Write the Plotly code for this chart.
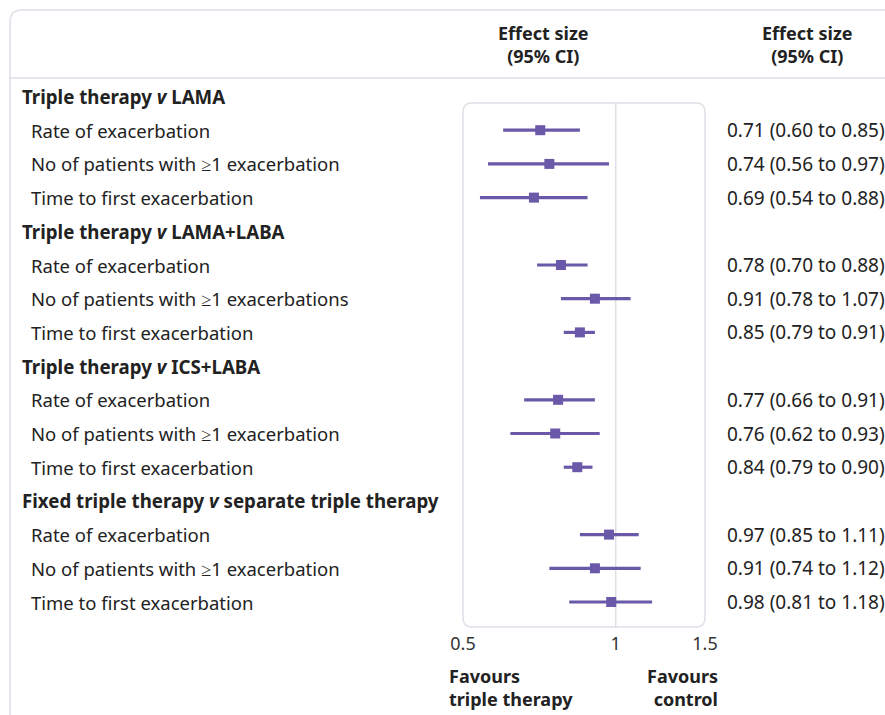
import plotly.graph_objects as go

W, H = 885, 715

groups = [
    "Triple therapy <i>v</i> LAMA",
    "Triple therapy <i>v</i> LAMA+LABA",
    "Triple therapy <i>v</i> ICS+LABA",
    "Fixed triple therapy <i>v</i> separate triple therapy",
]
outcomes = [
    ["Rate of exacerbation", "No of patients with ≥1 exacerbation", "Time to first exacerbation"],
    ["Rate of exacerbation", "No of patients with ≥1 exacerbations", "Time to first exacerbation"],
    ["Rate of exacerbation", "No of patients with ≥1 exacerbation", "Time to first exacerbation"],
    ["Rate of exacerbation", "No of patients with ≥1 exacerbation", "Time to first exacerbation"],
]
est = [[0.71, 0.74, 0.69], [0.78, 0.91, 0.85], [0.77, 0.76, 0.84], [0.97, 0.91, 0.98]]
low = [[0.60, 0.56, 0.54], [0.70, 0.78, 0.79], [0.66, 0.62, 0.79], [0.85, 0.74, 0.81]]
high = [[0.85, 0.97, 0.88], [0.88, 1.07, 0.91], [0.91, 0.93, 0.90], [1.11, 1.12, 1.18]]
tick_vals = [0.5, 1, 1.5]
tick_text = ["0.5", "1", "1.5"]

PURPLE = "#6a58a8"
GRID = "#dde0e7"
TXT = "#222222"
FONT = "Noto Sans"
BFONT = "Noto Sans"

def px(x):
    return x / W

def py(y):
    return 1 - y / H

BX0, BX1, BY0, BY1 = 463, 705, 103, 627
STEP = 33.7
FIRST = 96.5
y_top = (0 - FIRST) / STEP
y_bot = (H - FIRST) / STEP

rows_y, xs, lo_err, hi_err = [], [], [], []
annotations = []
k = 0
for g, name in enumerate(groups):
    annotations.append(dict(x=px(20), y=k, xref="paper", yref="y", text="<b>" + name + "</b>",
                            showarrow=False, xanchor="left", yanchor="middle",
                            font=dict(family=BFONT, size=18.7, color=TXT)))
    k += 1
    for i, lab in enumerate(outcomes[g]):
        e, l, h = est[g][i], low[g][i], high[g][i]
        rows_y.append(k)
        xs.append(e)
        lo_err.append(e - l)
        hi_err.append(h - e)
        annotations.append(dict(x=px(29), y=k, xref="paper", yref="y", text=lab,
                                showarrow=False, xanchor="left", yanchor="middle",
                                font=dict(family=FONT, size=18.5, color=TXT)))
        annotations.append(dict(x=px(725), y=k, xref="paper", yref="y",
                                text=f"{e:.2f} ({l:.2f} to {h:.2f})",
                                showarrow=False, xanchor="left", yanchor="middle",
                                font=dict(family=FONT, size=19, color=TXT)))
        k += 1

fig = go.Figure()
fig.add_trace(go.Scatter(
    x=xs, y=rows_y, mode="markers",
    marker=dict(symbol="square", size=10, color=PURPLE),
    error_x=dict(type="data", symmetric=False, array=hi_err, arrayminus=lo_err,
                 color=PURPLE, thickness=3.2, width=0),
    hoverinfo="skip", showlegend=False,
))

for cx in (543, 807):
    annotations.append(dict(x=px(cx), y=py(45), xref="paper", yref="paper",
                            text="<b>Effect size<br>(95% CI)</b>", showarrow=False,
                            xanchor="center", yanchor="middle", align="center",
                            font=dict(family=BFONT, size=18, color=TXT)))
annotations.append(dict(x=px(447), y=py(687), xref="paper", yref="paper",
                        text="<b>Favours<br>triple therapy</b>", showarrow=False,
                        xanchor="left", yanchor="middle", align="left",
                        font=dict(family=BFONT, size=18, color=TXT)))
annotations.append(dict(x=px(720), y=py(687), xref="paper", yref="paper",
                        text="<b>Favours<br>control</b>", showarrow=False,
                        xanchor="right", yanchor="middle", align="right",
                        font=dict(family=BFONT, size=18, color=TXT)))

def rrect(x0, y0, x1, y1, r):
    return (f"M {px(x0+r)},{py(y0)} L {px(x1-r)},{py(y0)} Q {px(x1)},{py(y0)} {px(x1)},{py(y0+r)} "
            f"L {px(x1)},{py(y1-r)} Q {px(x1)},{py(y1)} {px(x1-r)},{py(y1)} "
            f"L {px(x0+r)},{py(y1)} Q {px(x0)},{py(y1)} {px(x0)},{py(y1-r)} "
            f"L {px(x0)},{py(y0+r)} Q {px(x0)},{py(y0)} {px(x0+r)},{py(y0)} Z")

shapes = [
    dict(type="path", xref="paper", yref="paper",
         path=f"M {px(10)},{py(H+5)} L {px(10)},{py(22)} Q {px(10)},{py(10)} {px(22)},{py(10)} L {px(W+5)},{py(10)}",
         line=dict(color=GRID, width=1.5)),
    dict(type="line", xref="paper", yref="paper", x0=px(10), x1=px(W + 5), y0=py(78), y1=py(78),
         line=dict(color=GRID, width=1.5)),
    dict(type="path", xref="paper", yref="paper", path=rrect(BX0, BY0, BX1, BY1, 9),
         line=dict(color=GRID, width=1.5), layer="below"),
    dict(type="line", xref="x", yref="paper", x0=1, x1=1, y0=py(BY1), y1=py(BY0),
         line=dict(color=GRID, width=1.5), layer="below"),
]

fig.update_layout(
    width=W, height=H,
    margin=dict(l=0, r=0, t=0, b=0, pad=0, autoexpand=False),
    paper_bgcolor="white", plot_bgcolor="rgba(0,0,0,0)",
    xaxis=dict(type="log", domain=[px(BX0), px(BX1)], anchor="free", position=py(BY1),
               range=[-0.30103, 0.176091], tickvals=tick_vals, ticktext=tick_text,
               showgrid=False, zeroline=False, showline=False, ticks="",
               ticklabelstandoff=4,
               tickfont=dict(family=FONT, size=18, color="#333333"), fixedrange=True),
    yaxis=dict(domain=[0, 1], range=[y_bot, y_top],
               showgrid=False, zeroline=False, showline=False, showticklabels=False,
               fixedrange=True),
    shapes=shapes,
    annotations=annotations,
)

fig.write_html("out.html", config={"displayModeBar": False},
               post_script="document.body.style.margin='0';document.body.style.overflow='hidden';")
